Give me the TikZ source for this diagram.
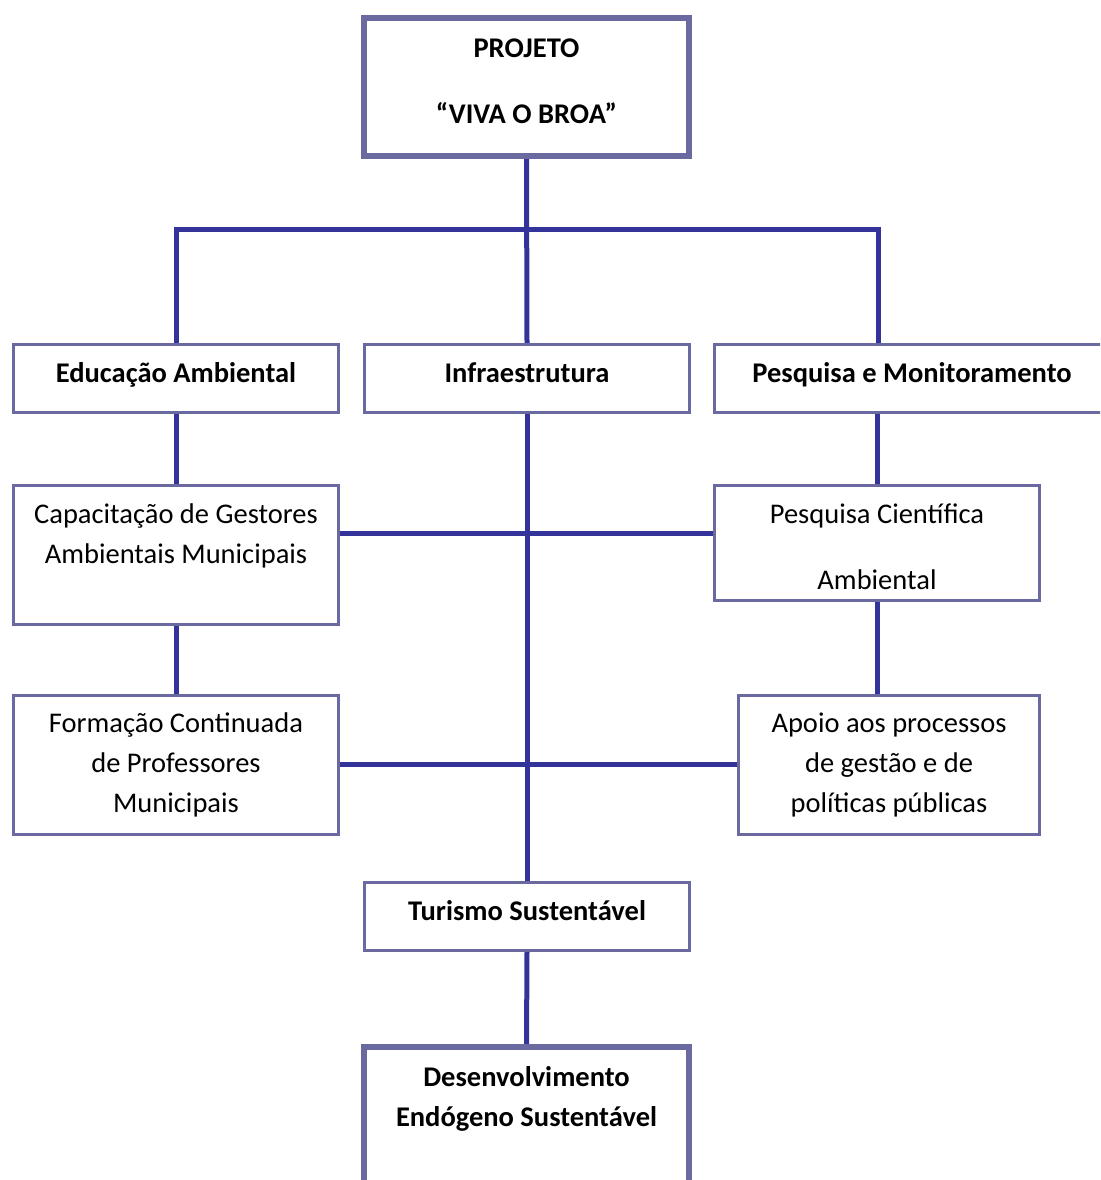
\documentclass[tikz,border=0pt]{standalone}
\usepackage{fontspec}
\setmainfont{Carlito}
\usetikzlibrary{backgrounds}
\definecolor{boxline}{RGB}{106,106,160}
\definecolor{linkline}{RGB}{51,51,153}
\tikzset{
  box/.style={draw=boxline, line width=3pt, fill=white, minimum width=325pt,
    inner sep=0pt, align=center, font=\fontsize{28.5}{40}\selectfont},
  headbox/.style={box, minimum height=68pt, text height=23pt, text depth=15pt,
    font=\fontsize{28.5}{40}\selectfont\bfseries},
  bigbox/.style={box, line width=5.5pt, minimum height=138pt,
    font=\fontsize{28.5}{40}\selectfont\bfseries},
  textbox/.style={box, minimum height=139pt},
  link/.style={draw=linkline, line width=5pt},
}
\begin{document}
\begin{tikzpicture}[x=1pt,y=-1pt]
  \useasboundingbox (0,0) rectangle (1100,1180);
  \clip (0,0) rectangle (1100,1180);

  % project header
  \node[bigbox] (proj) at (526.5,87) {PROJETO\\[26pt]“VIVA O BROA”\\[-28pt]};

  % three main lines of action
  \node[headbox] (edu) at (176,378.5) {Educação Ambiental};
  \node[headbox] (infra) at (527,378.5) {Infraestrutura};
  \node[headbox, minimum width=395pt] (pesq) at (912,378.5) {Pesquisa e Monitoramento};

  % sub-actions
  \node[textbox] (cap) at (176,554.5) {Capacitação de Gestores\\Ambientais Municipais\\[-10pt]\strut};
  \node[textbox] (form) at (176,764.5) {Formação Continuada\\de Professores\\Municipais};
  \node[box, minimum height=115pt] (pc) at (877,542.5) {Pesquisa Científica\\[26pt]Ambiental\\[-48pt]};
  \node[textbox, minimum width=301pt] (apoio) at (889,764.5) {Apoio aos processos\\de gestão e de\\políticas públicas};

  % results
  \node[headbox] (tur) at (527,916) {Turismo Sustentável};
  \node[bigbox] (dev) at (526.5,1116) {Desenvolvimento\\Endógeno Sustentável\\[-12pt]\strut};

  \coordinate (busL) at (176,229);
  \coordinate (busR) at (878,229);
  \coordinate (midA) at (527,533);

  \begin{scope}[on background layer]
    \draw[link] (proj.south) -- (infra.north);
    \draw[link] (edu.north) -- (busL) -- (busR) -- (busR |- pesq.north);
    \draw[link] (edu.south) -- (cap.north);
    \draw[link] (cap.south) -- (form.north);
    \draw[link] (pc.north |- pesq.south) -- (pc.north);
    \draw[link] (pc.south) -- (pc.south |- apoio.north);
    \draw[link] (infra.south) -- (tur.north);
    \draw[link] (cap.east |- midA) -- (pc.west |- midA);
    \draw[link] (form.east) -- (apoio.west);
    \draw[link] (tur.south) -- (dev.north);
  \end{scope}
\end{tikzpicture}
\end{document}
